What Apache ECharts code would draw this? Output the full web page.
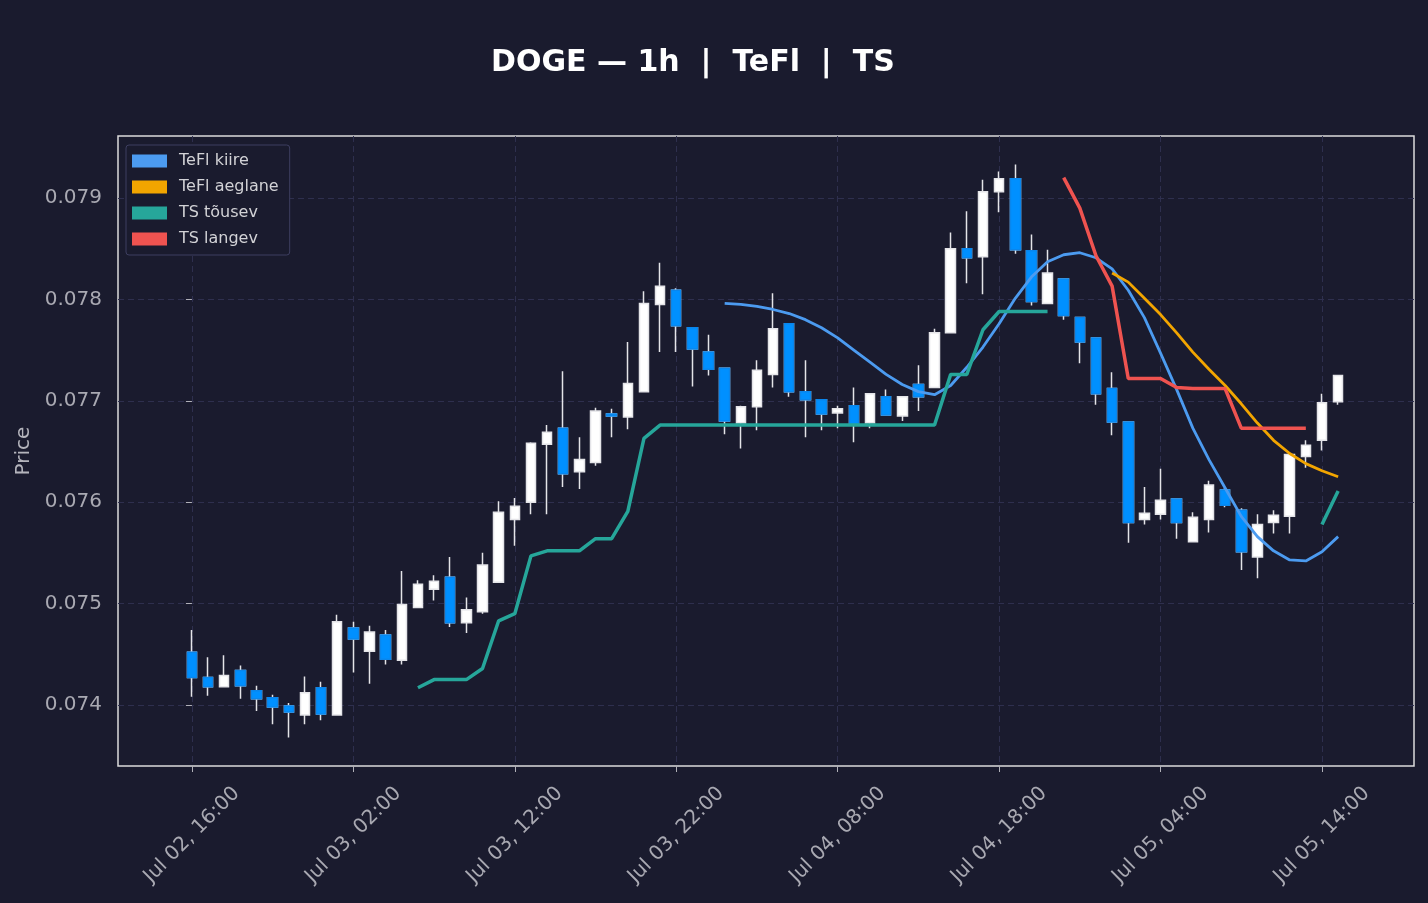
<!DOCTYPE html>
<html>
<head>
<meta charset="utf-8">
<script src="https://cdn.jsdelivr.net/npm/echarts@6/dist/echarts.min.js"></script>
<style>
html, body { margin: 0; padding: 0; background: #1a1b2e; }
#main { width: 1428px; height: 903px; }
</style>
</head>
<body>
<div id="main"></div>
<script>
// hourly candles, index 0 = Jul 02 16:00
var openP = [0.07452, 0.07427, 0.07418, 0.07434, 0.07414, 0.07407, 0.07399, 0.07390, 0.07417, 0.07390,
  0.07476, 0.07453, 0.07469, 0.07444, 0.07496, 0.07514, 0.07526, 0.07481, 0.07492, 0.07521,
  0.07583, 0.07600, 0.07657, 0.07673, 0.07630, 0.07639, 0.07687, 0.07684, 0.07709, 0.07795,
  0.07809, 0.07772, 0.07748, 0.07732, 0.07678, 0.07694, 0.07726, 0.07776, 0.07709, 0.07701,
  0.07688, 0.07695, 0.07678, 0.07704, 0.07685, 0.07716, 0.07713, 0.07767, 0.07850, 0.07842,
  0.07906, 0.07919, 0.07848, 0.07796, 0.07820, 0.07782, 0.07762, 0.07712, 0.07679, 0.07583,
  0.07588, 0.07603, 0.07561, 0.07583, 0.07612, 0.07592, 0.07546, 0.07580, 0.07586, 0.07645,
  0.07661, 0.07699];
var highP = [0.07474, 0.07447, 0.07449, 0.07439, 0.07419, 0.07410, 0.07402, 0.07428, 0.07423, 0.07489,
  0.07482, 0.07478, 0.07474, 0.07532, 0.07523, 0.07528, 0.07546, 0.07506, 0.07550, 0.07601,
  0.07604, 0.07659, 0.07676, 0.07729, 0.07664, 0.07693, 0.07692, 0.07758, 0.07808, 0.07836,
  0.07811, 0.07772, 0.07765, 0.07732, 0.07695, 0.07740, 0.07806, 0.07776, 0.07740, 0.07701,
  0.07695, 0.07713, 0.07707, 0.07711, 0.07704, 0.07735, 0.07771, 0.07866, 0.07887, 0.07918,
  0.07926, 0.07933, 0.07864, 0.07849, 0.07820, 0.07782, 0.07762, 0.07728, 0.07679, 0.07615,
  0.07633, 0.07603, 0.07590, 0.07621, 0.07614, 0.07594, 0.07588, 0.07592, 0.07647, 0.07661,
  0.07707, 0.07725];
var lowP = [0.07408, 0.07409, 0.07418, 0.07406, 0.07394, 0.07381, 0.07368, 0.07381, 0.07385, 0.07390,
  0.07432, 0.07421, 0.07440, 0.07440, 0.07496, 0.07503, 0.07477, 0.07471, 0.07490, 0.07521,
  0.07557, 0.07588, 0.07588, 0.07615, 0.07613, 0.07636, 0.07664, 0.07672, 0.07709, 0.07748,
  0.07748, 0.07714, 0.07725, 0.07667, 0.07653, 0.07671, 0.07713, 0.07704, 0.07664, 0.07671,
  0.07673, 0.07659, 0.07673, 0.07686, 0.07680, 0.07690, 0.07713, 0.07767, 0.07816, 0.07805,
  0.07886, 0.07845, 0.07794, 0.07796, 0.07780, 0.07737, 0.07696, 0.07666, 0.07560, 0.07578,
  0.07583, 0.07564, 0.07561, 0.07570, 0.07595, 0.07533, 0.07525, 0.07569, 0.07569, 0.07634,
  0.07651, 0.07696];
var closeP = [0.07427, 0.07418, 0.07429, 0.07419, 0.07406, 0.07398, 0.07393, 0.07412, 0.07391, 0.07482,
  0.07465, 0.07472, 0.07445, 0.07499, 0.07519, 0.07522, 0.07481, 0.07494, 0.07538, 0.07590,
  0.07596, 0.07658, 0.07669, 0.07628, 0.07642, 0.07690, 0.07685, 0.07717, 0.07796, 0.07813,
  0.07774, 0.07751, 0.07731, 0.07680, 0.07694, 0.07730, 0.07771, 0.07709, 0.07701, 0.07687,
  0.07692, 0.07677, 0.07707, 0.07686, 0.07704, 0.07704, 0.07767, 0.07850, 0.07841, 0.07906,
  0.07919, 0.07849, 0.07798, 0.07826, 0.07784, 0.07758, 0.07707, 0.07679, 0.07580, 0.07589,
  0.07602, 0.07580, 0.07585, 0.07617, 0.07597, 0.07551, 0.07578, 0.07587, 0.07647, 0.07656,
  0.07698, 0.07725];

var teflFast = [
  null, null, null, null, null, null, null, null, null, null,
  null, null, null, null, null, null, null, null, null, null,
  null, null, null, null, null, null, null, null, null, null,
  null, null, null, 0.07796, 0.07795, 0.07793, 0.07790, 0.07786, 0.07780, 0.07772,
  0.07762, 0.07750, 0.07738, 0.07726, 0.07716, 0.07709, 0.07706, 0.07715, 0.07733, 0.07753,
  0.07776, 0.07801, 0.07822, 0.07837, 0.07844, 0.07846, 0.07841, 0.07830, 0.07809, 0.07782,
  0.07747, 0.07711, 0.07673, 0.07642, 0.07614, 0.07586, 0.07566, 0.07552, 0.07543, 0.07542,
  0.07551, 0.07566];
var teflSlow = [
  null, null, null, null, null, null, null, null, null, null,
  null, null, null, null, null, null, null, null, null, null,
  null, null, null, null, null, null, null, null, null, null,
  null, null, null, null, null, null, null, null, null, null,
  null, null, null, null, null, null, null, null, null, null,
  null, null, null, null, null, null, null, 0.07826, 0.07817, 0.07801,
  0.07785, 0.07767, 0.07748, 0.07731, 0.07715, 0.07697, 0.07678, 0.07661, 0.07648, 0.07638,
  0.07631, 0.07625];
var tsUp = [
  null, null, null, null, null, null, null, null, null, null,
  null, null, null, null, 0.07417, 0.07425, 0.07425, 0.07425, 0.07436, 0.07483,
  0.07490, 0.07547, 0.07552, 0.07552, 0.07552, 0.07564, 0.07564, 0.07591, 0.07663, 0.07676,
  0.07676, 0.07676, 0.07676, 0.07676, 0.07676, 0.07676, 0.07676, 0.07676, 0.07676, 0.07676,
  0.07676, 0.07676, 0.07676, 0.07676, 0.07676, 0.07676, 0.07676, 0.07726, 0.07726, 0.07770,
  0.07788, 0.07788, 0.07788, 0.07788, null, null, null, null, null, null,
  null, null, null, null, null, null, null, null, null, null,
  0.07578, 0.07611];
var tsDown = [
  null, null, null, null, null, null, null, null, null, null,
  null, null, null, null, null, null, null, null, null, null,
  null, null, null, null, null, null, null, null, null, null,
  null, null, null, null, null, null, null, null, null, null,
  null, null, null, null, null, null, null, null, null, null,
  null, null, null, null, 0.07920, 0.07890, 0.07843, 0.07813, 0.07722, 0.07722,
  0.07722, 0.07713, 0.07712, 0.07712, 0.07712, 0.07673, 0.07673, 0.07673, 0.07673, 0.07673,
  null, null];

var xTicks = [0, 10, 20, 30, 40, 50, 60, 70];
var xTickLabels = ['Jul 02, 16:00', 'Jul 03, 02:00', 'Jul 03, 12:00', 'Jul 03, 22:00',
  'Jul 04, 08:00', 'Jul 04, 18:00', 'Jul 05, 04:00', 'Jul 05, 14:00'];
var yTicks = [0.074, 0.075, 0.076, 0.077, 0.078, 0.079];

var candles = [], downBodies = [];
for (var i = 0; i < openP.length; i++) {
  candles.push([i, openP[i], closeP[i], lowP[i], highP[i]]);
  if (closeP[i] < openP[i]) downBodies.push([i, openP[i], closeP[i], closeP[i], openP[i]]);
}
function pairs(arr) {
  return arr.map(function (v, i) { return [i, v == null ? '-' : v]; });
}
function line(name, arr, color, width) {
  return {
    name: name, type: 'line', data: pairs(arr), color: color,
    showSymbol: false, symbol: 'none', connectNulls: false,
    lineStyle: { color: color, width: width }, z: 5
  };
}

var myChart = echarts.init(document.getElementById('main'));
var gridColor = '#2e2f4e';
var option = {
  backgroundColor: '#1a1b2e',
  animation: false,
  textStyle: { fontFamily: 'DejaVu Sans' },
  title: {
    text: 'DOGE \u2014 1h  |  TeFl  |  TS',
    left: 491, top: 48, padding: 0,
    textStyle: { color: '#ffffff', fontSize: 30, fontWeight: 'bold', fontFamily: 'DejaVu Sans' }
  },
  legend: {
    data: ['TeFl kiire', 'TeFl aeglane', 'TS t\u00f5usev', 'TS langev'],
    orient: 'vertical', left: 126, top: 145,
    padding: [8, 11, 8, 6], itemGap: 10,
    icon: 'rect', itemWidth: 35, itemHeight: 13,
    backgroundColor: '#1a1b2e', borderColor: '#3d3e60', borderWidth: 1, borderRadius: 3,
    textStyle: { color: '#d2d2d6', fontSize: 16, padding: [0, 0, 0, 7] }
  },
  grid: {
    left: 118, right: 14, top: 136, bottom: 137,
    show: true, borderColor: '#dcdcdc', borderWidth: 1.5,
    outerBoundsMode: 'none'
  },
  xAxis: {
    type: 'value', min: -4.58, max: 75.7, splitNumber: 8,
    axisLine: { show: false },
    axisTick: { show: true, length: 6, inside: false, customValues: xTicks, lineStyle: { color: '#b0b0b8' } },
    axisLabel: {
      customValues: xTicks,
      rotate: 45, align: 'center', verticalAlign: 'middle', margin: 69,
      color: '#a9a9b2', fontSize: 20,
      formatter: function (v) { var k = xTicks.indexOf(Math.round(v)); return k < 0 ? '' : xTickLabels[k]; }
    },
    splitLine: { show: true, lineStyle: { color: gridColor, type: [6, 4], width: 1 } }
  },
  yAxis: {
    type: 'value', min: 0.073398, max: 0.079611, splitNumber: 6, scale: true,
    name: 'Price', nameLocation: 'middle', nameGap: 83,
    nameTextStyle: { color: '#b4b4bc', fontSize: 20 },
    axisLine: { show: false },
    axisTick: { show: true, length: 6, customValues: yTicks, lineStyle: { color: '#b0b0b8' } },
    axisLabel: {
      customValues: yTicks,
      color: '#a9a9b2', fontSize: 20, margin: 16,
      formatter: function (v) { return v.toFixed(3); }
    },
    splitLine: { show: true, lineStyle: { color: gridColor, type: [6, 4], width: 1 } }
  },
  series: [
    {
      name: 'candles', type: 'candlestick', data: candles,
      encode: { x: 0, y: [1, 2, 3, 4] },
      barWidth: 10,
      itemStyle: {
        color: '#ffffff', color0: '#ffffff',
        borderColor: '#e4e4e8', borderColor0: '#e4e4e8', borderWidth: 1.5
      },
      z: 2
    },
    {
      name: 'downBodies', type: 'candlestick', data: downBodies,
      encode: { x: 0, y: [1, 2, 3, 4] },
      barWidth: 10,
      itemStyle: {
        color: '#0090ff', color0: '#0090ff',
        borderColor: '#0a86ec', borderColor0: '#0a86ec', borderWidth: 1.5
      },
      z: 3
    },
    line('TeFl kiire', teflFast, '#4c9bf0', 2.8),
    line('TeFl aeglane', teflSlow, '#f2a500', 2.8),
    line('TS t\u00f5usev', tsUp, '#26a69a', 3.5),
    line('TS langev', tsDown, '#ef5350', 3.5)
  ]
};
myChart.setOption(option);
</script>
</body>
</html>
